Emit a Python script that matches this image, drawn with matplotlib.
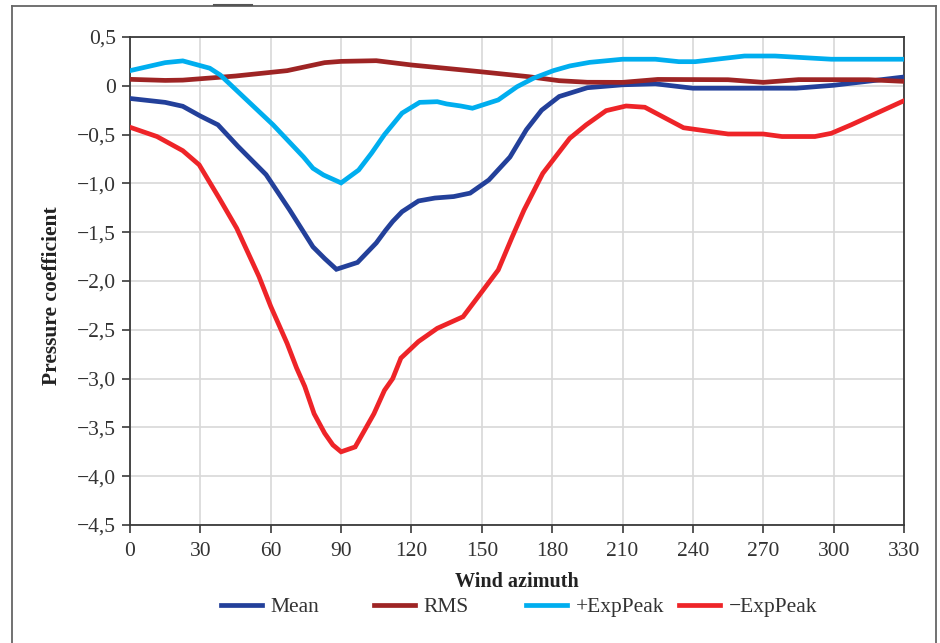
import matplotlib
matplotlib.use("Agg")
import matplotlib.pyplot as plt
from matplotlib.lines import Line2D
from matplotlib.ticker import FuncFormatter

plt.rcParams['font.family'] = ['Liberation Serif', 'DejaVu Serif']

# values
mean_az = [0, 15, 22.5, 30, 37.5, 46, 58, 68, 78, 83, 88, 97, 105, 109, 112, 116,
           123, 130, 138, 145, 153, 162, 169, 175.5, 183, 195, 210, 224, 240, 284, 300, 330]
mean_cp = [-0.13, -0.17, -0.21, -0.31, -0.40, -0.62, -0.91, -1.27, -1.65, -1.77, -1.88,
           -1.81, -1.61, -1.48, -1.39, -1.29, -1.18, -1.15, -1.135, -1.10, -0.965, -0.73,
           -0.45, -0.25, -0.11, -0.02, 0.01, 0.02, -0.025, -0.025, 0.005, 0.09]

rms_az = [0, 15, 22.5, 36, 45, 67, 83, 90, 105, 120, 149, 170, 183, 195, 210, 225,
          255, 270, 285, 315, 330]
rms_cp = [0.066, 0.055, 0.058, 0.083, 0.10, 0.155, 0.237, 0.25, 0.257, 0.213, 0.145,
          0.093, 0.052, 0.036, 0.035, 0.065, 0.062, 0.035, 0.063, 0.062, 0.045]

pos_az = [0, 15, 22.5, 34, 38.5, 61, 74, 78, 82.5, 90, 97.5, 103, 108.5, 116, 123.5,
          131, 135, 141, 146, 157, 165, 172, 180.5, 187.5, 196, 210, 224, 234, 241,
          262, 275, 299, 330]
pos_cp = [0.155, 0.237, 0.255, 0.18, 0.11, -0.40, -0.73, -0.845, -0.914, -0.995, -0.863,
          -0.69, -0.50, -0.28, -0.17, -0.163, -0.186, -0.207, -0.23, -0.145, -0.01, 0.077,
          0.155, 0.203, 0.24, 0.272, 0.272, 0.247, 0.247, 0.305, 0.305, 0.272, 0.272]

neg_az = [0, 11.5, 22.5, 29.5, 38, 45.5, 55, 60, 67, 71, 74.5, 78.5, 83, 86.5, 90, 96,
          104, 108.5, 112, 115.5, 123, 131, 142, 149, 157, 163, 168, 176, 187.5, 194.5,
          203, 211.5, 219.5, 236, 255, 270, 278, 292, 299, 307.5, 330]
neg_cp = [-0.425, -0.52, -0.665, -0.81, -1.15, -1.46, -1.955, -2.26, -2.64, -2.89, -3.08,
          -3.36, -3.56, -3.68, -3.75, -3.70, -3.36, -3.12, -3.0, -2.79, -2.62, -2.485,
          -2.366, -2.143, -1.887, -1.546, -1.273, -0.897, -0.538, -0.40, -0.255, -0.207,
          -0.22, -0.43, -0.494, -0.494, -0.52, -0.52, -0.487, -0.40, -0.153]

labels = ['Mean', 'RMS', '+ExpPeak', '\u2212ExpPeak']
colors = ['#23409a', '#9e2424', '#00aeef', '#ee2428']
xticks = list(range(0, 331, 30))
yticks = [0.5, 0, -0.5, -1.0, -1.5, -2.0, -2.5, -3.0, -3.5, -4.0, -4.5]

fig = plt.figure(figsize=(9.4, 6.43), dpi=100)
ax = fig.add_axes([0.1383, 0.1835, 0.8234, 0.759])

series = [(mean_az, mean_cp), (rms_az, rms_cp), (pos_az, pos_cp), (neg_az, neg_cp)]
handles = []
for (az, cp), lab, col in zip(series, labels, colors):
    h, = ax.plot(az, cp, color=col, lw=3.4, label=lab, solid_joinstyle='miter', zorder=3)
    handles.append(h)

ax.set_xlim(0, 330)
ax.set_ylim(-4.5, 0.5)
ax.set_xticks(xticks)
ax.set_yticks(yticks)


def comma(v, pos):
    if abs(v) < 1e-9:
        return '0'
    s = '%.1f' % abs(v)
    s = s.replace('.', ',')
    return ('\u2212' if v < 0 else '') + s


ax.yaxis.set_major_formatter(FuncFormatter(comma))
ax.grid(True, color='#d8d8d8', lw=1.2, zorder=0)
ax.set_axisbelow(True)
for sp in ax.spines.values():
    sp.set_color('#3a3a3a')
    sp.set_linewidth(1.3)
ax.tick_params(axis='both', direction='out', length=6, width=1.2, color='#3a3a3a',
               labelsize=15.5, labelcolor='#333333')
ax.tick_params(axis='x', pad=6)
ax.tick_params(axis='y', pad=4)

ax.set_xlabel('Wind azimuth', fontsize=14.5, fontweight='bold', color='#222222', labelpad=8)
ax.set_ylabel('Pressure coefficient', fontsize=15.5, fontweight='bold', color='#222222')
ax.yaxis.set_label_coords(-0.088, 0.47)

# legend entries spaced evenly below the x label
leg_x = [222, 375, 527, 680]
for h, lx in zip(handles, leg_x):
    lg = fig.legend(handles=[h], loc='center left', bbox_to_anchor=(lx / 940 - 0.008, 1 - 607 / 643),
                    frameon=False, fontsize=15.5, handlelength=1.9, handletextpad=0.4,
                    borderaxespad=0, borderpad=0.3)
    for t in lg.get_texts():
        t.set_color('#333333')

# outer page frame
fc = '#666666'
fig.add_artist(Line2D([12 / 940, 935.5 / 940], [1 - 6 / 643, 1 - 6 / 643], color=fc, lw=1.3))
fig.add_artist(Line2D([12 / 940, 12 / 940], [0, 1 - 6 / 643], color=fc, lw=1.3))
fig.add_artist(Line2D([935.5 / 940, 935.5 / 940], [0, 1 - 6 / 643], color=fc, lw=1.3))
fig.add_artist(Line2D([214 / 940, 252 / 940], [1 - 5 / 643, 1 - 5 / 643], color='#555555', lw=1.5))

fig.savefig('out.png', dpi=100)
